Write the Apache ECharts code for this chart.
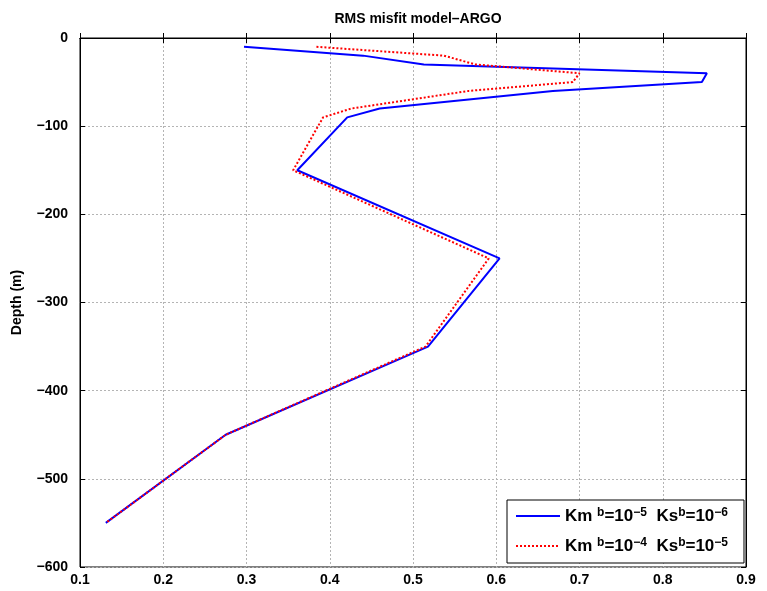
<!DOCTYPE html>
<html>
<head>
<meta charset="utf-8">
<script src="https://cdn.jsdelivr.net/npm/echarts@6/dist/echarts.min.js"></script>
<style>
html,body{margin:0;padding:0;background:#fff;}
#c{width:767px;height:591px;}
</style>
</head>
<body>
<div id="c"></div>
<script>
// Data (depth in m, RMS misfit)
const depths = [-10, -20, -30, -40, -50, -60, -80, -90, -150, -250, -350, -450, -550];
const blueVals = [0.297, 0.44, 0.513, 0.853, 0.847, 0.668, 0.46, 0.421, 0.361, 0.604, 0.518, 0.275, 0.131];
const redVals = [0.384, 0.537, 0.575, 0.700, 0.692, 0.567, 0.426, 0.392, 0.356, 0.591, 0.515, 0.275, 0.131];
const seriesNames = ['Km b=10-5  Ks b=10-6', 'Km b=10-4  Ks b=10-5'];
const legendRich = [
  'Km {sup|b}=10{sup|\u22125}  Ks{sup|b}=10{sup|\u22126}',
  'Km {sup|b}=10{sup|\u22124}  Ks{sup|b}=10{sup|\u22125}'
];
const xTicks = {min: 0.1, max: 0.9, step: 0.1};
const yTicks = {min: -600, max: 0, step: 100};
const titleText = 'RMS misfit model\u2013ARGO';
const yName = 'Depth (m)';

const FONT = '"Liberation Sans", Arial, Helvetica, sans-serif';
const chart = echarts.init(document.getElementById('c'), null, {renderer: 'canvas'});

function pairs(vals) { return vals.map((v, i) => [v, depths[i]]); }
const fmtY = v => (v < 0 ? '\u2212' + Math.abs(v) : String(v));
const fmtX = v => Number(v).toFixed(1);

const splitStyle = {show: true, lineStyle: {color: '#b4b4b4', type: [2, 2], width: 1}};
const axisLineBlack = {show: true, lineStyle: {color: '#000', width: 1}};
const tickIn = {show: true, inside: true, length: 5, lineStyle: {color: '#000', width: 1}};

chart.setOption({
  backgroundColor: '#fff',
  animation: false,
  title: {
    text: titleText, left: 413, textAlign: 'center', top: 7,
    textStyle: {fontFamily: FONT, fontWeight: 'bold', fontSize: 14, color: '#000'}
  },
  grid: {left: 80, right: 21, top: 38, bottom: 24, show: true, borderColor: '#000', borderWidth: 1, backgroundColor: 'transparent'},
  xAxis: [{
    type: 'value', min: xTicks.min, max: xTicks.max, interval: xTicks.step, position: 'bottom',
    axisLine: axisLineBlack, axisTick: tickIn, splitLine: splitStyle,
    axisLabel: {formatter: fmtX, margin: 6, fontFamily: FONT, fontWeight: 'bold', fontSize: 14, color: '#000'}
  }, {
    type: 'value', min: xTicks.min, max: xTicks.max, interval: xTicks.step, position: 'top',
    axisLine: axisLineBlack, axisTick: tickIn, splitLine: {show: false}, axisLabel: {show: false}
  }],
  yAxis: [{
    type: 'value', min: yTicks.min, max: yTicks.max, interval: yTicks.step, position: 'left',
    axisLine: axisLineBlack, axisTick: tickIn, splitLine: splitStyle,
    name: yName, nameLocation: 'middle', nameGap: 56, nameRotate: 90,
    nameTextStyle: {fontFamily: FONT, fontWeight: 'bold', fontSize: 14, color: '#000'},
    axisLabel: {formatter: fmtY, margin: 12, fontFamily: FONT, fontWeight: 'bold', fontSize: 14, color: '#000'}
  }, {
    type: 'value', min: yTicks.min, max: yTicks.max, interval: yTicks.step, position: 'right',
    axisLine: axisLineBlack, axisTick: tickIn, splitLine: {show: false}, axisLabel: {show: false}
  }],
  legend: {
    orient: 'vertical', left: 507, top: 500,
    padding: [7, 16, 8, 8], itemGap: 12, itemWidth: 44, itemHeight: 16,
    backgroundColor: '#fff', borderColor: '#000', borderWidth: 1, borderRadius: 0,
    data: seriesNames,
    itemStyle: {opacity: 0},
    formatter: name => legendRich[seriesNames.indexOf(name)],
    textStyle: {
      fontFamily: FONT, fontWeight: 'bold', fontSize: 17, color: '#000', lineHeight: 18,
      rich: {
        sup: {fontFamily: FONT, fontWeight: 'bold', fontSize: 12, color: '#000', verticalAlign: 'top', lineHeight: 10}
      }
    }
  },
  series: [{
    name: seriesNames[0], type: 'line', data: pairs(blueVals), symbol: 'none',
    lineStyle: {color: '#0000ff', width: 2}, itemStyle: {color: '#0000ff'}, z: 3
  }, {
    name: seriesNames[1], type: 'line', data: pairs(redVals), symbol: 'none',
    lineStyle: {color: '#ff0000', width: 2, type: [2, 2]}, itemStyle: {color: '#ff0000'}, z: 4
  }]
});
</script>
</body>
</html>
